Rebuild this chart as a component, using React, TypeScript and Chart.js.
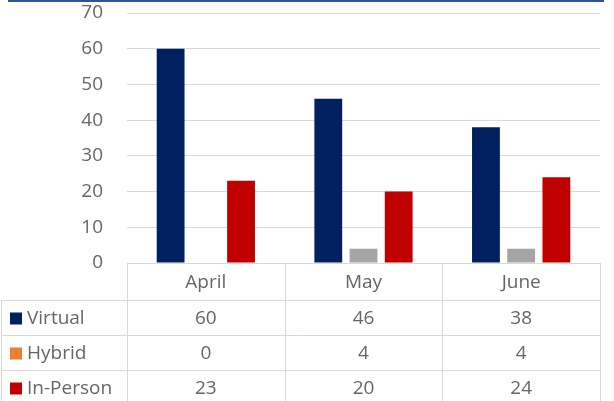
import React, { useEffect, useRef } from "react";
import { Chart, registerables } from "chart.js";

Chart.register(...registerables);

const categories = ["April", "May", "June"];
const seriesNames = ["Virtual", "Hybrid", "In-Person"];
const virtualValues = [60, 46, 38];
const hybridValues = [0, 4, 4];
const inPersonValues = [23, 20, 24];
const yTicks = [0, 10, 20, 30, 40, 50, 60, 70];

const barColors = ["#002060", "#a5a5a5", "#c00000"];
const keyColors = ["#002060", "#ed7d31", "#c00000"];
const FONT = "'Open Sans', sans-serif";
const FONT_SIZE = 19;
const TEXT = "#666666";
const LINE = "#d9d9d9";

const tablePlugin = {
  id: "dataTable",
  afterDraw(chart: any) {
    const ctx = chart.ctx;
    const x = chart.scales.x;
    const area = chart.chartArea;
    const top = area.bottom;
    const rowH = 35;
    const headerH = 37;
    const leftEdge = area.left;
    const rightEdge = area.right;
    const colW = (rightEdge - leftEdge) / categories.length;
    const bottom = chart.height + 2;
    ctx.save();
    ctx.strokeStyle = LINE;
    ctx.lineWidth = 1;
    for (let i = 0; i <= categories.length; i++) {
      const cx = Math.round(leftEdge + i * colW) + 0.5;
      ctx.beginPath();
      ctx.moveTo(cx, top);
      ctx.lineTo(cx, bottom);
      ctx.stroke();
    }
    ctx.beginPath();
    ctx.moveTo(1.5, top + headerH);
    ctx.lineTo(1.5, bottom);
    ctx.stroke();
    ctx.beginPath();
    ctx.moveTo(leftEdge, Math.round(top) + 0.5);
    ctx.lineTo(rightEdge, Math.round(top) + 0.5);
    ctx.stroke();
    for (let r = 0; r < seriesNames.length; r++) {
      const y = Math.round(top + headerH + r * rowH) + 0.5;
      ctx.beginPath();
      ctx.moveTo(1, y);
      ctx.lineTo(rightEdge, y);
      ctx.stroke();
    }
    ctx.fillStyle = TEXT;
    ctx.font = `${FONT_SIZE}px ${FONT}`;
    ctx.textAlign = "center";
    ctx.textBaseline = "middle";
    categories.forEach((c, i) => {
      ctx.fillText(c, x.getPixelForValue(i), top + headerH / 2 + 1);
    });
    const rows = [virtualValues, hybridValues, inPersonValues];
    rows.forEach((vals, r) => {
      const cy = top + headerH + r * rowH + rowH / 2 + 1;
      vals.forEach((v, i) => {
        ctx.textAlign = "center";
        ctx.fillStyle = TEXT;
        ctx.fillText(String(v), x.getPixelForValue(i), cy);
      });
      ctx.fillStyle = keyColors[r];
      ctx.fillRect(10, cy - 6, 12, 12);
      ctx.fillStyle = TEXT;
      ctx.textAlign = "left";
      ctx.fillText(seriesNames[r], 27, cy);
    });
    ctx.fillStyle = "#2f5597";
    ctx.fillRect(8, 0, 596, 2);
    ctx.restore();
  },
};

export default function App() {
  const ref = useRef<HTMLCanvasElement>(null);
  useEffect(() => {
    if (!ref.current) return;
    const chart = new Chart(ref.current, {
      type: "bar",
      data: {
        labels: categories,
        datasets: [
          { label: seriesNames[0], data: virtualValues, backgroundColor: barColors[0] },
          { label: seriesNames[1], data: hybridValues, backgroundColor: barColors[1] },
          { label: seriesNames[2], data: inPersonValues, backgroundColor: barColors[2] },
        ],
      },
      options: {
        responsive: false,
        animation: false,
        devicePixelRatio: 1,
        datasets: { bar: { categoryPercentage: 0.67, barPercentage: 0.79 } },
        layout: { padding: { top: 13, right: 14, bottom: 138, left: 0 } },
        plugins: { legend: { display: false }, tooltip: { enabled: false } },
        scales: {
          x: {
            ticks: { display: false },
            grid: { display: false, drawTicks: false },
            border: { display: false },
          },
          y: {
            min: 0,
            max: 70,
            afterBuildTicks: (scale: any) => {
              scale.ticks = yTicks.map((v) => ({ value: v }));
            },
            afterFit: (scale: any) => {
              scale.width = 127;
              scale.paddingTop = 0;
              scale.paddingBottom = 0;
            },
            ticks: { color: TEXT, padding: 24, font: { family: "Open Sans", size: FONT_SIZE } },
            grid: { color: LINE, drawTicks: false },
            border: { display: false },
          },
        },
      },
      plugins: [tablePlugin],
    });
    return () => chart.destroy();
  }, []);
  return (
    <div style={{ position: "fixed", left: 0, top: 0, width: 614, height: 401, background: "#fff" }}>
      <canvas ref={ref} width={614} height={401} style={{ display: "block" }} />
    </div>
  );
}
